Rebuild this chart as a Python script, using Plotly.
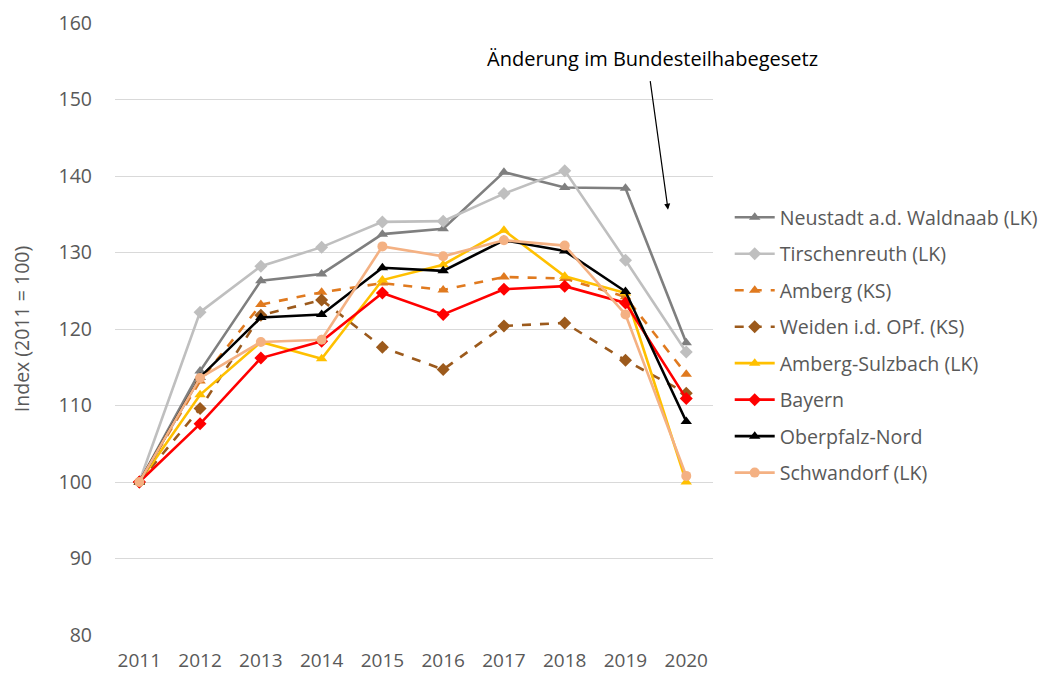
import plotly.graph_objects as go

years = [2011, 2012, 2013, 2014, 2015, 2016, 2017, 2018, 2019, 2020]

neustadt = [100, 114.5, 126.3, 127.2, 132.4, 133.1, 140.5, 138.5, 138.4, 118.2]
tirschenreuth = [100, 122.2, 128.2, 130.7, 134.0, 134.1, 137.7, 140.7, 129.0, 117.0]
amberg_ks = [100, 113.2, 123.2, 124.8, 126.0, 125.1, 126.8, 126.6, 124.2, 114.1]
weiden = [100, 109.6, 121.8, 123.8, 117.6, 114.7, 120.4, 120.8, 115.9, 111.6]
amberg_sulzbach = [100, 111.4, 118.3, 116.1, 126.4, 128.4, 132.9, 126.9, 124.7, 100.0]
bayern = [100, 107.6, 116.2, 118.4, 124.7, 121.9, 125.2, 125.6, 123.4, 110.9]
oberpfalz_nord = [100, 113.7, 121.5, 121.9, 128.0, 127.6, 131.6, 130.2, 124.9, 107.9]
schwandorf = [100, 113.6, 118.3, 118.6, 130.8, 129.5, 131.6, 130.9, 121.9, 100.8]

series = [
    ("Neustadt a.d. Waldnaab (LK)", neustadt, "#7f7f7f", "solid", "triangle-up"),
    ("Tirschenreuth (LK)", tirschenreuth, "#bfbfbf", "solid", "diamond"),
    ("Amberg (KS)", amberg_ks, "#e07a1f", "dash", "triangle-up"),
    ("Weiden i.d. OPf. (KS)", weiden, "#9c5a1c", "dash", "diamond"),
    ("Amberg-Sulzbach (LK)", amberg_sulzbach, "#ffc000", "solid", "triangle-up"),
    ("Bayern", bayern, "#ff0000", "solid", "diamond"),
    ("Oberpfalz-Nord", oberpfalz_nord, "#000000", "solid", "triangle-up"),
    ("Schwandorf (LK)", schwandorf, "#f4b183", "solid", "circle"),
]

fig = go.Figure()
for i, (name, vals, color, dash, sym) in enumerate(series):
    fig.add_trace(go.Scatter(
        x=years, y=vals, name=name, mode="lines+markers",
        line=dict(color=color, width=2.6, dash=dash),
        marker=dict(symbol=sym, size=10, color=color),
        legendgroup=f"g{i}",
    ))

fig.add_annotation(
    x=2019.70, y=135.6, ax=-18, ay=-130, xref="x", yref="y",
    showarrow=True, arrowhead=2, arrowsize=1, arrowwidth=1.2, arrowcolor="#000000",
    text="",
)
fig.add_annotation(
    x=2019.44, y=155.4, xref="x", yref="y", showarrow=False,
    text="Änderung im Bundesteilhabegesetz",
    font=dict(family="Open Sans", size=20, color="#000000"),
)

fig.update_layout(
    width=1049, height=675,
    margin=dict(l=107, r=344, t=15, b=48),
    paper_bgcolor="white", plot_bgcolor="white",
    font=dict(family="Open Sans", color="#595959", size=18),
    xaxis=dict(
        range=[2010.6, 2020.44], tickvals=years, ticktext=[str(y) for y in years],
        showgrid=False, zeroline=False, showline=False, automargin=False,
        tickfont=dict(size=19, color="#595959"), ticks="", ticklen=0,
        ticklabelstandoff=12,
    ),
    yaxis=dict(
        range=[80, 160], dtick=10, showgrid=True, gridcolor="#d9d9d9", gridwidth=1,
        zeroline=False, showline=False, automargin=False,
        tickfont=dict(size=19.5, color="#595959"), ticks="", ticklabelstandoff=22,
        title=dict(text="Index (2011 = 100)", font=dict(family="Open Sans", size=19.5, color="#595959"), standoff=24),
    ),
    legend=dict(
        xref="container", yref="container",
        x=0.688, xanchor="left", y=0.7185, yanchor="top",
        font=dict(size=19.6, color="#595959"), tracegroupgap=8,
        bgcolor="rgba(0,0,0,0)", itemwidth=40,
    ),
    showlegend=True,
)

fig.write_html("out.html")
